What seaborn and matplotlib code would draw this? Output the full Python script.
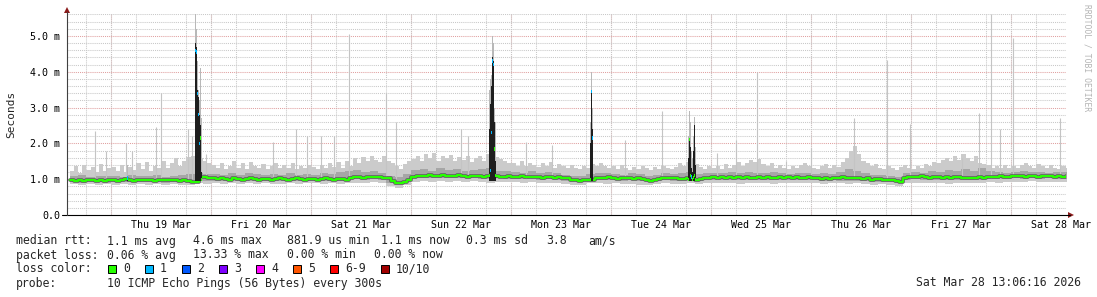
import numpy as np
import pandas as pd
import matplotlib
matplotlib.use("Agg")
import matplotlib.pyplot as plt
import matplotlib.dates as mdates
from matplotlib.ticker import MultipleLocator, FuncFormatter
from matplotlib.lines import Line2D
from matplotlib.patches import Polygon, Rectangle
import seaborn as sns

# ---------------- data ----------------
END_TIME = "2026-03-28 13:06:16"
HOURLY_START = "2026-03-18 14:00"      # hourly samples
TWO_HOUR_START = "2026-03-18 14:00"    # 2-hourly smoke quantiles

median_rtt = [  # ms, hourly
    0.97, 0.95, 0.98, 0.96, 0.99, 0.97, 0.95, 0.98, 0.96, 0.97,
    0.98, 0.96, 0.99, 1.00, 0.97, 0.96, 0.98, 0.97, 0.99, 0.98, 0.96, 0.97, 0.98, 0.99,
    0.97, 0.98, 0.96, 0.97, 0.95, 0.93, 0.93, 1.05, 1.06, 1.04,
    1.02, 1.00, 1.03, 1.01, 0.99, 1.02, 1.00, 0.98, 1.01, 1.03, 1.00, 0.99,
    1.01, 1.00, 0.98, 1.00, 1.02, 1.01, 0.99, 1.00, 1.02, 1.00, 0.99, 1.01,
    1.00, 0.99, 1.01, 1.03, 1.00, 0.98, 1.01, 1.00, 0.99, 1.02, 1.05, 1.06,
    1.04, 1.07, 1.06, 1.05, 1.07, 1.04, 1.02, 0.95, 0.90, 0.88, 0.92, 0.98,
    1.06, 1.09, 1.10, 1.08, 1.11, 1.09, 1.10, 1.12, 1.08, 1.10, 1.09, 1.11,
    1.08, 1.07, 1.09, 1.10, 1.08, 1.07, 1.09, 1.06, 1.08, 1.07, 1.06, 1.08,
    1.07, 1.05, 1.08, 1.06, 1.07, 1.05, 1.06, 1.04, 1.06, 1.05, 1.03, 1.05,
    1.04, 1.02, 0.99, 0.97, 0.96, 0.98, 0.97, 0.99, 1.03, 1.04, 1.02, 1.05,
    1.03, 1.01, 1.04, 1.02, 1.03, 1.00, 1.02, 1.01, 0.99, 0.96, 0.98, 1.01,
    1.03, 1.02, 1.04, 1.03, 1.01, 1.00, 1.02, 1.00, 0.98, 1.00, 1.02, 1.04,
    1.05, 1.03, 1.06, 1.04, 1.05, 1.03, 1.06, 1.04, 1.05, 1.03, 1.04, 1.06,
    1.03, 1.05, 1.04, 1.02, 1.05, 1.03, 1.06, 1.04, 1.05, 1.03, 1.04, 1.05,
    1.02, 1.04, 1.01, 1.03, 1.00, 1.02, 1.04, 1.05, 1.03, 1.04, 1.02, 1.03,
    1.00, 1.02, 0.99, 1.01, 1.00, 0.98, 0.99, 0.97, 0.95, 0.92, 1.02, 1.06,
    1.07, 1.05, 1.08, 1.06, 1.04, 1.06, 1.05, 1.03, 1.05, 1.04, 1.06, 1.05,
    1.03, 1.02, 1.04, 1.03, 1.05, 1.04, 1.06, 1.05, 1.07, 1.08, 1.06, 1.07,
    1.09, 1.10, 1.08, 1.07, 1.09, 1.08, 1.06, 1.08, 1.09, 1.10, 1.07, 1.08,
    1.06, 1.08,
]

max_rtt = [  # ms, hourly upper edge of the light smoke
    1.22, 1.36, 1.18, 1.40, 1.25, 1.33, 1.20, 1.42, 1.24, 1.30,
    1.34, 1.22, 1.40, 1.20, 1.35, 1.26, 1.44, 1.28, 1.48, 1.22, 1.38, 1.30,
    1.50, 1.32, 1.46, 1.58, 1.36, 1.52, 1.62, 1.66, 1.70, 1.60, 1.52, 1.44,
    1.40, 1.30, 1.46, 1.28, 1.38, 1.52, 1.32, 1.44, 1.28, 1.48, 1.36, 1.30,
    1.42, 1.28, 1.36, 1.46, 1.30, 1.40, 1.32, 1.44, 1.28, 1.36, 1.30, 1.40,
    1.34, 1.28, 1.40, 1.30, 1.44, 1.34, 1.48, 1.32, 1.52, 1.38, 1.58, 1.44,
    1.62, 1.50, 1.66, 1.54, 1.48, 1.64, 1.52, 1.44, 1.36, 1.28, 1.42, 1.52,
    1.56, 1.66, 1.50, 1.70, 1.58, 1.72, 1.52, 1.64, 1.58, 1.68, 1.50, 1.62,
    1.54, 1.66, 1.48, 1.58, 1.64, 1.52, 1.70, 1.74, 1.62, 1.56, 1.50, 1.46,
    1.44, 1.36, 1.50, 1.38, 1.46, 1.40, 1.34, 1.45, 1.38, 1.48, 1.32, 1.42,
    1.36, 1.30, 1.40, 1.32, 1.28, 1.36, 1.30, 1.42, 1.36, 1.44, 1.38, 1.32,
    1.36, 1.28, 1.40, 1.30, 1.26, 1.34, 1.28, 1.38, 1.30, 1.26, 1.34, 1.28,
    1.38, 1.30, 1.27, 1.35, 1.44, 1.38, 1.48, 1.52, 1.42, 1.34, 1.28, 1.36,
    1.30, 1.38, 1.28, 1.42, 1.32, 1.40, 1.48, 1.36, 1.44, 1.54, 1.48, 1.56,
    1.42, 1.36, 1.44, 1.30, 1.40, 1.32, 1.28, 1.36, 1.30, 1.40, 1.44, 1.36,
    1.32, 1.28, 1.36, 1.42, 1.30, 1.40, 1.34, 1.48, 1.60, 1.78, 1.92, 1.70,
    1.52, 1.44, 1.36, 1.42, 1.32, 1.28, 1.36, 1.30, 1.26, 1.34, 1.40, 1.30,
    1.28, 1.36, 1.32, 1.42, 1.38, 1.48, 1.44, 1.54, 1.60, 1.50, 1.64, 1.54,
    1.70, 1.60, 1.52, 1.66, 1.46, 1.42, 1.40, 1.32, 1.36, 1.30, 1.40, 1.32,
    1.36, 1.30, 1.40, 1.44, 1.36, 1.32, 1.42, 1.36, 1.30, 1.40, 1.32, 1.28,
    1.36, 1.30,
]

min_rtt = [  # ms, 2-hourly lowest ping
    0.86, 0.84, 0.87, 0.85, 0.86,
    0.85, 0.87, 0.84, 0.86, 0.85, 0.87, 0.84, 0.86, 0.85, 0.83, 0.88, 0.87,
    0.88, 0.86, 0.89, 0.87, 0.88, 0.86, 0.89, 0.87, 0.86, 0.88, 0.87, 0.89,
    0.88, 0.87, 0.89, 0.86, 0.88, 0.90, 0.89, 0.91, 0.88, 0.80, 0.76, 0.85,
    0.92, 0.94, 0.93, 0.95, 0.92, 0.94, 0.93, 0.95, 0.92, 0.90, 0.93, 0.92,
    0.92, 0.90, 0.91, 0.89, 0.90, 0.88, 0.86, 0.84, 0.85, 0.88, 0.89, 0.87,
    0.88, 0.86, 0.87, 0.85, 0.83, 0.86, 0.88, 0.87, 0.86, 0.88, 0.87, 0.89,
    0.88, 0.90, 0.89, 0.87, 0.90, 0.88, 0.89, 0.87, 0.88, 0.90, 0.89, 0.88,
    0.88, 0.87, 0.89, 0.88, 0.86, 0.88, 0.87, 0.85, 0.86, 0.84, 0.82, 0.90,
    0.90, 0.89, 0.88, 0.90, 0.87, 0.89, 0.88, 0.90, 0.89, 0.91, 0.90, 0.92,
    0.93, 0.92, 0.94, 0.92, 0.93, 0.91, 0.92,
]

q1_rtt = [  # ms, 2-hourly lower edge of the darker smoke
    0.91, 0.90, 0.92, 0.91, 0.90,
    0.92, 0.91, 0.93, 0.92, 0.91, 0.92, 0.90, 0.92, 0.91, 0.90, 0.95, 0.96,
    0.95, 0.94, 0.96, 0.95, 0.94, 0.96, 0.95, 0.94, 0.95, 0.96, 0.94, 0.95,
    0.95, 0.94, 0.96, 0.95, 0.98, 1.00, 0.99, 1.00, 0.97, 0.88, 0.84, 0.96,
    1.02, 1.03, 1.04, 1.02, 1.03, 1.04, 1.02, 1.03, 1.01, 1.00, 1.02, 1.01,
    1.01, 1.00, 1.01, 0.99, 1.00, 0.98, 0.96, 0.92, 0.91, 0.93, 0.97, 0.98,
    0.97, 0.96, 0.97, 0.95, 0.93, 0.96, 0.97, 0.96, 0.95, 0.94, 0.96, 0.97,
    0.99, 0.98, 0.99, 0.98, 0.99, 0.97, 0.99, 0.98, 0.97, 0.98, 0.99, 0.97,
    0.97, 0.96, 0.97, 0.95, 0.96, 0.95, 0.94, 0.93, 0.92, 0.91, 0.88, 0.99,
    1.00, 0.99, 0.98, 0.99, 0.97, 0.98, 0.98, 0.97, 0.99, 1.00, 1.01, 1.00,
    1.02, 1.01, 1.03, 1.01, 1.02, 1.00, 1.01,
]

q3_rtt = [  # ms, 2-hourly upper edge of the darker smoke
    1.08, 1.12, 1.06, 1.10, 1.09,
    1.10, 1.07, 1.12, 1.09, 1.08, 1.11, 1.07, 1.10, 1.13, 1.15, 1.18, 1.14,
    1.15, 1.12, 1.16, 1.13, 1.18, 1.14, 1.12, 1.15, 1.13, 1.16, 1.12, 1.14,
    1.13, 1.16, 1.14, 1.20, 1.22, 1.25, 1.20, 1.24, 1.18, 1.08, 1.05, 1.15,
    1.25, 1.28, 1.24, 1.30, 1.26, 1.28, 1.22, 1.25, 1.27, 1.30, 1.24, 1.22,
    1.20, 1.18, 1.22, 1.17, 1.19, 1.16, 1.13, 1.10, 1.09, 1.15, 1.18, 1.16,
    1.15, 1.13, 1.16, 1.14, 1.10, 1.13, 1.16, 1.15, 1.17, 1.20, 1.15, 1.16,
    1.18, 1.16, 1.19, 1.17, 1.20, 1.18, 1.16, 1.19, 1.17, 1.15, 1.18, 1.16,
    1.15, 1.17, 1.14, 1.20, 1.28, 1.22, 1.16, 1.13, 1.12, 1.10, 1.06, 1.18,
    1.20, 1.18, 1.22, 1.20, 1.25, 1.22, 1.28, 1.24, 1.30, 1.22, 1.20, 1.18,
    1.20, 1.22, 1.19, 1.21, 1.18, 1.20, 1.19,
]

# isolated single-sample spikes of the slowest ping
spike_times = [
    "2026-03-18 20:10", "2026-03-18 22:48", "2026-03-19 03:36", "2026-03-19 05:02",
    "2026-03-19 10:48", "2026-03-19 12:00", "2026-03-19 18:29", "2026-03-19 19:26",
    "2026-03-19 22:48", "2026-03-20 14:53", "2026-03-20 20:24", "2026-03-20 23:02",
    "2026-03-21 02:24", "2026-03-21 05:31", "2026-03-21 09:07", "2026-03-21 18:00",
    "2026-03-21 20:24", "2026-03-22 12:00", "2026-03-22 13:41", "2026-03-23 03:36",
    "2026-03-23 09:50", "2026-03-24 03:22", "2026-03-24 12:14", "2026-03-25 01:26",
    "2026-03-25 06:00", "2026-03-25 11:02", "2026-03-25 18:00", "2026-03-26 00:00",
    "2026-03-26 10:19", "2026-03-26 18:14", "2026-03-26 23:46", "2026-03-27 12:14",
    "2026-03-27 16:19", "2026-03-27 19:12", "2026-03-27 21:22", "2026-03-28 00:29",
    "2026-03-28 11:46",
]
spike_heights = [
    2.35, 1.80, 2.00, 1.80,
    2.47, 3.40, 2.40, 2.20,
    1.70, 2.05, 2.40, 2.20,
    2.20, 2.20, 5.05, 3.40,
    2.60, 2.40, 2.20, 2.05,
    1.95, 2.10, 2.90, 1.73,
    2.10, 4.00, 1.50, 1.87,
    2.70, 4.33, 2.55, 1.60,
    2.85, 5.60, 2.40, 4.93,
    2.70,
]

# latency events (one sample every 14.4 min)
event_times = [
    "2026-03-19 03:50",
    "2026-03-19 20:10", "2026-03-19 20:24", "2026-03-19 20:38", "2026-03-19 20:53",
    "2026-03-19 21:07", "2026-03-19 21:22", "2026-03-19 21:36",
    "2026-03-22 18:43", "2026-03-22 18:58", "2026-03-22 19:12", "2026-03-22 19:26",
    "2026-03-22 19:41", "2026-03-22 19:55", "2026-03-22 20:10",
    "2026-03-23 18:58", "2026-03-23 19:12", "2026-03-23 19:26",
    "2026-03-24 18:29", "2026-03-24 18:43", "2026-03-24 18:58", "2026-03-24 19:12",
    "2026-03-24 19:26", "2026-03-24 19:41", "2026-03-24 19:55", "2026-03-24 20:10",
]
event_median = [
    1.03,
    4.60, 4.55, 3.40, 2.80, 2.00, 2.15, 1.00,
    1.10, 1.25, 2.30, 4.30, 4.20, 1.84, 1.10,
    1.00, 3.45, 2.15,
    1.00, 2.10, 1.10, 1.06, 1.00, 1.05, 1.10, 1.00,
]
event_dark_top = [
    1.10,
    4.80, 4.70, 3.50, 3.30, 2.80, 2.50, 1.20,
    2.40, 3.10, 3.60, 4.40, 4.30, 2.60, 1.50,
    2.00, 3.50, 2.40,
    1.60, 2.15, 1.90, 1.30, 1.20, 1.80, 2.50, 1.40,
]
event_max = [
    1.40,
    5.60, 5.20, 4.30, 3.50, 3.20, 4.10, 2.70,
    3.50, 3.80, 3.90, 5.00, 4.80, 3.00, 2.60,
    2.60, 4.00, 3.00,
    2.20, 2.90, 2.60, 1.80, 1.60, 2.20, 2.74, 1.90,
]
event_loss = [
    1,
    1, 1, 1, 1, 1, 0, 0,
    0, 1, 1, 1, 1, 0, 0,
    0, 1, 1,
    0, 0, 0, 1, 0, 0, 0, 0,
]

loss_labels = ["0", "1", "2", "3", "4", "5", "6-9", "10/10"]
loss_colors = ["#26ff00", "#00b8ff", "#0059ff", "#7e00ff", "#ff00ff", "#ff5500", "#ff0000", "#a10000"]

legend_median = [("median rtt:", 16), ("1.1 ms avg", 107), ("4.6 ms max", 193), ("881.9 us min", 287),
                 ("1.1 ms now", 381), ("0.3 ms sd", 466), ("3.8", 546), ("am/s", 588)]
legend_loss = [("packet loss:", 16), ("0.06 % avg", 107), ("13.33 % max", 193), ("0.00 % min", 287),
               ("0.00 % now", 374)]
probe_text = "10 ICMP Echo Pings (56 Bytes) every 300s"
stamp_text = "Sat Mar 28 13:06:16 2026"

# ---------------- figure ----------------
sns.set_style("white")
plt.rcParams["font.family"] = ["DejaVu Sans Mono"]

W, H = 1097, 297
fig = plt.figure(figsize=(W / 100, H / 100), dpi=100, facecolor="white")
ax = fig.add_axes([67 / W, 1 - 215 / H, 999 / W, 201 / H])
ax.set_facecolor("white")

end = pd.Timestamp(END_TIME)
start = end - pd.Timedelta(minutes=14.4 * 999)
ax.set_xlim(start, end)
ax.set_ylim(0, 5.61)

def edges(t0, n, freq):
    return pd.date_range(t0, periods=n + 1, freq=freq)

# hourly light smoke (median -> max)
th = edges(HOURLY_START, len(median_rtt), "h")
ax.fill_between(th, np.r_[median_rtt, median_rtt[-1]], np.r_[max_rtt, max_rtt[-1]],
                step="post", color="#cbcbcb", lw=0)
# 2-hourly light smoke (min -> q3) and darker core
t2 = edges(TWO_HOUR_START, len(min_rtt), "2h")
ax.fill_between(t2, np.r_[min_rtt, min_rtt[-1]], np.r_[q3_rtt, q3_rtt[-1]],
                step="post", color="#cbcbcb", lw=0)
ax.fill_between(t2, np.r_[q1_rtt, q1_rtt[-1]], np.r_[q3_rtt, q3_rtt[-1]],
                step="post", color="#a6a6a6", lw=0)

# spikes
ax.vlines(pd.to_datetime(spike_times), 1.0, spike_heights, color="#c4c4c4", lw=0.8)

# grid
ax.yaxis.set_major_locator(MultipleLocator(1.0))
ax.yaxis.set_minor_locator(MultipleLocator(0.2))
ax.grid(which="minor", axis="y", color="#c8c8c8", lw=0.75, ls=(0, (1, 1)), zorder=0)
ax.grid(which="major", axis="y", color="#e0a0a0", lw=0.75, ls=(0, (1, 1)), zorder=0)
ax.xaxis.set_minor_locator(mdates.HourLocator(byhour=[0, 6, 12, 18]))
ax.grid(which="minor", axis="x", color="#c8c8c8", lw=0.75, ls=(0, (1, 1)), zorder=0)
for d in pd.date_range(start.ceil("D"), end, freq="D"):
    ax.axvline(d, color="#e0a0a0", lw=0.75, ls=(0, (1, 1)), zorder=0.5)
ax.set_axisbelow(True)

# median line: dark core + green line
dfm = pd.DataFrame({"t": th[:-1], "median": median_rtt})
sns.lineplot(data=dfm, x="t", y="median", ax=ax, color="#606060", lw=2.6,
             drawstyle="steps-post", zorder=3)
sns.lineplot(data=dfm, x="t", y="median", ax=ax, color=loss_colors[0], lw=1.5,
             drawstyle="steps-post", zorder=4)

# events
et = pd.to_datetime(event_times)
w = 14.4 / 1440
ax.bar(et, np.array(event_max) - 0.95, bottom=0.95, width=w, align="edge",
       color="#b8b8b8", lw=0, zorder=4.5)
ax.bar(et, np.array(event_dark_top) - 0.95, bottom=0.95, width=w, align="edge",
       color="#1e1e1e", lw=0, zorder=5)
ax.bar(et, 0.09, bottom=np.array(event_median) - 0.045, width=w, align="edge",
       color=[loss_colors[l] for l in event_loss], lw=0, zorder=6)

# ticks
ax.yaxis.set_major_formatter(FuncFormatter(lambda v, p: "0.0" if v == 0 else f"{v:.1f} m"))
ax.xaxis.set_major_locator(mdates.HourLocator(byhour=[12]))
ax.xaxis.set_major_formatter(mdates.DateFormatter("%a %d %b"))
ax.tick_params(axis="both", which="both", length=0, labelsize=7.2, colors="black")
ax.tick_params(axis="y", pad=5)
ax.tick_params(axis="x", pad=3.5)
ax.set_xlabel("")
ax.set_ylabel("")
for s in ax.spines.values():
    s.set_visible(False)

# axes lines and arrows (pixel coordinates)
def px(x, y):
    return (x / W, 1 - y / H)

fig.add_artist(Line2D([62 / W, 1070 / W], [1 - 215 / H] * 2, color="black", lw=0.8))
fig.add_artist(Line2D([67 / W] * 2, [1 - 215 / H, 1 - 12 / H], color="#404040", lw=0.8))
fig.add_artist(Polygon([px(64, 13), px(70, 13), px(67, 7)], closed=True,
                       transform=fig.transFigure, color="#8b1a1a", lw=0))
fig.add_artist(Polygon([px(1068, 212), px(1068, 218), px(1074, 215)], closed=True,
                       transform=fig.transFigure, color="#8b1a1a", lw=0))

fig.text(11 / W, 1 - 114 / H, "Seconds", rotation=90, ha="center", va="center", fontsize=8)
fig.text(1087 / W, 1 - 4 / H, "RRDTOOL / TOBI OETIKER", rotation=270, ha="center", va="top",
         fontsize=5.8, color="#b4b4b4")

fs = 8.3
for txt, x in legend_median:
    fig.text(x / W, 1 - 241 / H, txt, fontsize=fs, va="center", ha="left")
for txt, x in legend_loss:
    fig.text(x / W, 1 - 255 / H, txt, fontsize=fs, va="center", ha="left")
fig.text(16 / W, 1 - 269 / H, "loss color:", fontsize=fs, va="center", ha="left")
box_x = [108, 145, 182, 219, 256, 293, 330, 381]
for bx, lab, col in zip(box_x, loss_labels, loss_colors):
    fig.add_artist(Rectangle(px(bx, 273), 8 / W, 8 / H, transform=fig.transFigure,
                             facecolor=col, edgecolor="black", lw=0.7))
    fig.text((bx + 15) / W, 1 - 269 / H, lab, fontsize=fs, va="center", ha="left")
fig.text(16 / W, 1 - 283 / H, "probe:", fontsize=fs, va="center", ha="left")
fig.text(107 / W, 1 - 283 / H, probe_text, fontsize=fs, va="center", ha="left")
fig.text(1081 / W, 1 - 283 / H, stamp_text, fontsize=fs, va="center", ha="right")

fig.savefig("out.png", dpi=100, facecolor="white")
